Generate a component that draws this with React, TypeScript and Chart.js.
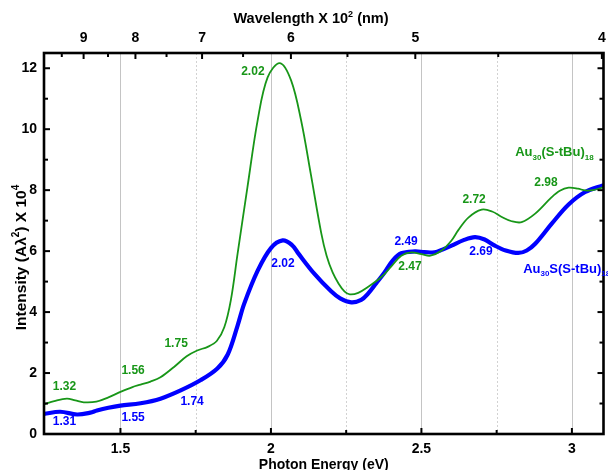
import React, { useEffect, useRef } from 'react';
import { Chart, registerables } from 'chart.js';

Chart.register(...registerables);

// ---- data ----
const greenEnergy = [1.246, 1.28, 1.322, 1.35, 1.378, 1.42, 1.46, 1.5, 1.54, 1.567, 1.6, 1.633, 1.678, 1.72, 1.755, 1.79, 1.82, 1.845, 1.867, 1.889, 1.922, 1.956, 1.989, 2.03, 2.067, 2.1, 2.133, 2.167, 2.185, 2.205, 2.225, 2.245, 2.262, 2.29, 2.322, 2.367, 2.4, 2.433, 2.467, 2.5, 2.53, 2.567, 2.6, 2.622, 2.656, 2.7, 2.735, 2.767, 2.8, 2.833, 2.878, 2.933, 2.96, 2.989, 3.02, 3.044, 3.07, 3.105];
const greenIntensity = [0.98, 1.08, 1.16, 1.1, 1.04, 1.06, 1.2, 1.38, 1.54, 1.62, 1.72, 1.86, 2.2, 2.55, 2.74, 2.86, 3.05, 3.5, 4.4, 5.9, 8.1, 10.3, 11.7, 12.17, 11.6, 10.3, 8.5, 6.6, 5.85, 5.3, 4.93, 4.67, 4.58, 4.63, 4.82, 5.15, 5.5, 5.85, 5.96, 5.9, 5.85, 6.02, 6.35, 6.68, 7.1, 7.36, 7.3, 7.12, 6.98, 6.95, 7.23, 7.77, 7.98, 8.08, 8.05, 7.99, 8.0, 8.1];

const blueEnergy = [1.246, 1.3, 1.356, 1.4, 1.422, 1.46, 1.5, 1.567, 1.633, 1.7, 1.767, 1.822, 1.856, 1.889, 1.911, 1.956, 2.0, 2.039, 2.07, 2.089, 2.144, 2.2, 2.23, 2.267, 2.3, 2.322, 2.35, 2.378, 2.405, 2.433, 2.478, 2.51, 2.544, 2.57, 2.6, 2.64, 2.678, 2.71, 2.744, 2.78, 2.822, 2.85, 2.878, 2.933, 2.989, 3.044, 3.105];
const blueIntensity = [0.66, 0.73, 0.64, 0.7, 0.77, 0.86, 0.93, 1.01, 1.16, 1.43, 1.77, 2.15, 2.6, 3.55, 4.27, 5.36, 6.1, 6.35, 6.2, 5.95, 5.26, 4.68, 4.45, 4.32, 4.4, 4.6, 4.95, 5.31, 5.7, 5.93, 5.99, 5.97, 5.96, 6.05, 6.18, 6.36, 6.46, 6.38, 6.18, 6.02, 5.94, 6.02, 6.24, 6.9, 7.53, 7.94, 8.16];

const energyTicks = [1.5, 2, 2.5, 3];
const energyTickLabels = ['1.5', '2', '2.5', '3'];
const energyMinorTicks = [1.75, 2.25, 2.75];
const wavelengthTicks = [9, 8, 7, 6, 5, 4]; // x 10^2 nm
const wavelengthMinorTicks = [9.5, 8.5, 7.5, 6.5, 5.5, 4.5];
const intensityTicks = [0, 2, 4, 6, 8, 10, 12];
const intensityMinorTicks = [1, 3, 5, 7, 9, 11];

const greenPeakText = ['1.32', '1.56', '1.75', '2.02', '2.47', '2.72', '2.98'];
const greenPeakEnergy = [1.314, 1.542, 1.685, 1.94, 2.462, 2.675, 2.914];
const greenPeakIntensity = [1.54, 2.09, 2.95, 11.89, 5.49, 7.7, 8.23];

const bluePeakText = ['1.31', '1.55', '1.74', '2.02', '2.49', '2.69'];
const bluePeakEnergy = [1.314, 1.542, 1.738, 2.04, 2.449, 2.698];
const bluePeakIntensity = [0.41, 0.55, 1.07, 5.58, 6.31, 5.98];

const greenName = [{ t: 'Au' }, { t: '30', s: 'sub' }, { t: '(S-tBu)' }, { t: '18', s: 'sub' }];
const blueName = [{ t: 'Au' }, { t: '30', s: 'sub' }, { t: 'S(S-tBu)' }, { t: '18', s: 'sub' }];
const greenNameAt = [2.8115, 9.28];
const blueNameAt = [2.838, 5.46];

const GREEN = 'rgb(24,150,24)';
const BLUE = 'rgb(0,0,255)';
const FONT = '"Liberation Sans", Arial, Helvetica, sans-serif';

type Seg = { t: string; s?: string };

function drawRich(ctx: CanvasRenderingContext2D, segs: Seg[], x: number, y: number, size: number, color: string, align: string) {
  const base = `bold ${size}px ${FONT}`;
  const small = `bold ${Math.round(size * 0.62)}px ${FONT}`;
  let w = 0;
  segs.forEach((sg) => {
    ctx.font = sg.s ? small : base;
    w += ctx.measureText(sg.t).width;
  });
  let cx = align === 'center' ? x - w / 2 : x;
  ctx.fillStyle = color;
  ctx.textAlign = 'left';
  ctx.textBaseline = 'alphabetic';
  segs.forEach((sg) => {
    ctx.font = sg.s ? small : base;
    const dy = sg.s === 'sup' ? -size * 0.42 : sg.s === 'sub' ? size * 0.28 : 0;
    ctx.fillText(sg.t, cx, y + dy);
    cx += ctx.measureText(sg.t).width;
  });
}

const toEnergy = (w: number) => 1239.84 / (w * 100);

const decor = {
  id: 'decor',
  beforeDatasetsDraw(chart: any) {
    const { ctx, chartArea: a, scales } = chart;
    const x = scales.x;
    ctx.save();
    ctx.lineWidth = 1;
    ctx.strokeStyle = '#c4c4c4';
    energyTicks.forEach((v) => {
      const px = Math.round(x.getPixelForValue(v)) + 0.5;
      ctx.beginPath();
      ctx.moveTo(px, a.top);
      ctx.lineTo(px, a.bottom);
      ctx.stroke();
    });
    ctx.strokeStyle = '#d2d2d2';
    ctx.setLineDash([2, 2]);
    energyMinorTicks.forEach((v) => {
      const px = Math.round(x.getPixelForValue(v)) + 0.5;
      ctx.beginPath();
      ctx.moveTo(px, a.top);
      ctx.lineTo(px, a.bottom);
      ctx.stroke();
    });
    ctx.restore();
  },
  afterDatasetsDraw(chart: any) {
    const { ctx, chartArea: a, scales } = chart;
    const x = scales.x;
    const y = scales.y;
    ctx.save();
    // frame
    ctx.strokeStyle = '#000';
    ctx.lineWidth = 2.6;
    ctx.strokeRect(a.left, a.top, a.right - a.left, a.bottom - a.top);
    // ticks
    ctx.lineWidth = 2;
    const vt = (px: number, y0: number, y1: number) => {
      ctx.beginPath();
      ctx.moveTo(px, y0);
      ctx.lineTo(px, y1);
      ctx.stroke();
    };
    const ht = (py: number, x0: number, x1: number) => {
      ctx.beginPath();
      ctx.moveTo(x0, py);
      ctx.lineTo(x1, py);
      ctx.stroke();
    };
    energyTicks.forEach((v) => vt(x.getPixelForValue(v), a.bottom, a.bottom - 6));
    energyMinorTicks.forEach((v) => vt(x.getPixelForValue(v), a.bottom, a.bottom - 4));
    wavelengthTicks.forEach((w) => vt(x.getPixelForValue(toEnergy(w)), a.top, a.top + 6));
    wavelengthMinorTicks.forEach((w) => vt(x.getPixelForValue(toEnergy(w)), a.top, a.top + 4));
    intensityTicks.forEach((v) => {
      const py = y.getPixelForValue(v);
      ht(py, a.left, a.left + 6);
      ht(py, a.right, a.right - 6);
    });
    intensityMinorTicks.forEach((v) => {
      const py = y.getPixelForValue(v);
      ht(py, a.left, a.left + 4);
      ht(py, a.right, a.right - 4);
    });
    // tick labels
    ctx.fillStyle = '#000';
    ctx.font = `bold 14px ${FONT}`;
    ctx.textAlign = 'center';
    ctx.textBaseline = 'middle';
    energyTicks.forEach((v, i) => ctx.fillText(energyTickLabels[i], x.getPixelForValue(v), a.bottom + 15));
    wavelengthTicks.forEach((w) => ctx.fillText(String(w), x.getPixelForValue(toEnergy(w)), a.top - 15));
    ctx.textAlign = 'right';
    intensityTicks.forEach((v) => ctx.fillText(String(v), a.left - 7, y.getPixelForValue(v)));
    // axis titles
    drawRich(ctx, [{ t: 'Photon Energy (eV)' }], (a.left + a.right) / 2, 469, 14, '#000', 'center');
    drawRich(ctx, [{ t: 'Wavelength X 10' }, { t: '2', s: 'sup' }, { t: ' (nm)' }], 311, 23, 14.5, '#000', 'center');
    ctx.save();
    ctx.translate(25.5, 257.5);
    ctx.rotate(-Math.PI / 2);
    drawRich(ctx, [{ t: 'Intensity (A\u03bb' }, { t: '2', s: 'sup' }, { t: ') X 10' }, { t: '4', s: 'sup' }], 0, 0, 15.5, '#000', 'center');
    ctx.restore();
    // peak labels
    ctx.font = `bold 12px ${FONT}`;
    ctx.textAlign = 'center';
    ctx.textBaseline = 'middle';
    ctx.fillStyle = GREEN;
    greenPeakText.forEach((t, i) => ctx.fillText(t, x.getPixelForValue(greenPeakEnergy[i]), y.getPixelForValue(greenPeakIntensity[i])));
    ctx.fillStyle = BLUE;
    bluePeakText.forEach((t, i) => ctx.fillText(t, x.getPixelForValue(bluePeakEnergy[i]), y.getPixelForValue(bluePeakIntensity[i])));
    // series names
    drawRich(ctx, greenName, x.getPixelForValue(greenNameAt[0]), y.getPixelForValue(greenNameAt[1]) + 5, 13, GREEN, 'left');
    drawRich(ctx, blueName, x.getPixelForValue(blueNameAt[0]), y.getPixelForValue(blueNameAt[1]) + 5, 13, BLUE, 'left');
    ctx.restore();
  },
};

export default function App() {
  const ref = useRef<HTMLCanvasElement>(null);
  useEffect(() => {
    if (!ref.current) return;
    const hidden = { display: false, drawTicks: false };
    const chart = new Chart(ref.current, {
      type: 'line',
      data: {
        datasets: [
          {
            label: 'Au30(S-tBu)18',
            data: greenEnergy.map((e, i) => ({ x: e, y: greenIntensity[i] })),
            borderColor: GREEN,
            borderWidth: 1.8,
            pointRadius: 0,
            tension: 0.35,
            fill: false,
          },
          {
            label: 'Au30S(S-tBu)18',
            data: blueEnergy.map((e, i) => ({ x: e, y: blueIntensity[i] })),
            borderColor: BLUE,
            borderWidth: 4.2,
            pointRadius: 0,
            tension: 0.35,
            fill: false,
          },
        ],
      },
      options: {
        animation: false,
        responsive: false,
        devicePixelRatio: 1,
        layout: { padding: { left: 0, right: 4.5, top: 0, bottom: 0 } },
        plugins: { legend: { display: false }, tooltip: { enabled: false } },
        scales: {
          x: {
            type: 'linear',
            position: 'bottom',
            min: 1.246,
            max: 3.105,
            grid: hidden,
            border: { display: false },
            ticks: { display: false },
            afterFit: (s: any) => { s.height = 36; },
          },
          x2: {
            type: 'linear',
            position: 'top',
            min: 1.246,
            max: 3.105,
            grid: hidden,
            border: { display: false },
            ticks: { display: false },
            afterFit: (s: any) => { s.height = 53; },
          },
          y: {
            type: 'linear',
            position: 'left',
            min: 0,
            max: 12.5,
            grid: hidden,
            border: { display: false },
            ticks: { display: false },
            afterFit: (s: any) => { s.width = 44; },
          },
        },
      } as any,
      plugins: [decor],
    });
    return () => chart.destroy();
  }, []);
  return (
    <div style={{ position: 'fixed', left: 0, top: 0, width: 608, height: 470, background: '#fff' }}>
      <canvas ref={ref} width={608} height={470} style={{ display: 'block', width: 608, height: 470 }} />
    </div>
  );
}
